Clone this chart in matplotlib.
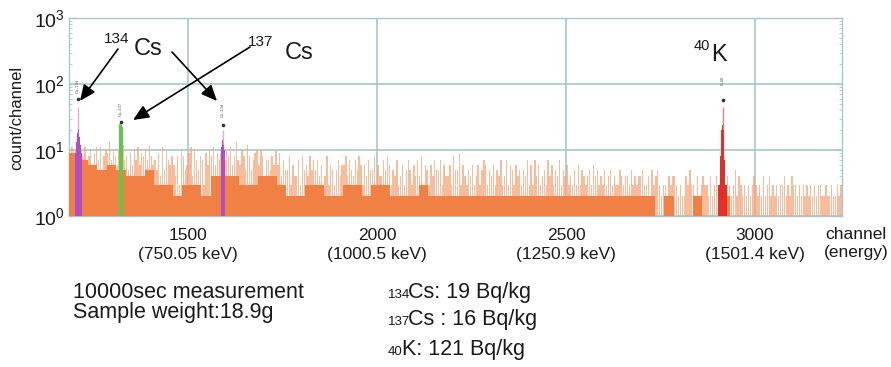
import matplotlib
matplotlib.use('Agg')
import matplotlib.pyplot as plt
import matplotlib.patches as mpatches
import numpy as np
from matplotlib.ticker import LogLocator, NullFormatter

plt.rcParams['font.family'] = ['Liberation Sans', 'DejaVu Sans']
plt.rcParams['mathtext.fontset'] = 'custom'
plt.rcParams['mathtext.rm'] = 'Liberation Sans'
plt.rcParams['mathtext.it'] = 'Liberation Sans:italic'
plt.rcParams['mathtext.default'] = 'regular'

W, H = 891, 367

# ---------------- data ----------------
channel_start = 1185
channel_end = 3230
block_width = 25          # smoothed background block (channels)
bin_width = 5             # raw-count bin (channels)

x_ticks = [1500, 2000, 2500, 3000]
x_tick_labels = ['1500\n(750.05 keV)', '2000\n(1000.5 keV)',
                 '2500\n(1250.9 keV)', '3000\n(1501.4 keV)']
y_ticks = [1, 10, 100, 1000]

# smoothed background level per 25-channel block
background_levels = [
    9, 7, 6, 5, 6, 5, 4, 4, 5, 3,
    3, 2, 3, 3, 2, 4, 4, 4, 3, 3,
    4, 4, 3, 2, 2, 3, 3, 2, 2, 3,
    3, 2, 3, 3, 2, 2, 2, 3, 2, 2,
    2, 2, 2, 2, 2, 2, 2, 2, 2, 2,
    2, 2, 2, 2, 2, 2, 2, 2, 2, 2,
    2, 2, 1, 2, 1, 1, 2, 1, 1, 2,
    1, 1, 1, 1, 1, 1, 1, 1, 1, 1,
    1, 1,
]

# raw counts per 5-channel bin
channel_counts = [
    9, 11, 8, 10, 12, 9, 10, 8, 11, 7, 8, 10, 6, 9, 11, 7, 11, 5, 8, 10, 9, 13, 7, 10, 8,
    6, 10, 8, 12, 7, 8, 5, 9, 6, 10, 7, 11, 6, 9, 8, 10, 7, 12, 8, 6, 7, 5, 9, 4, 11,
    5, 10, 7, 6, 8, 6, 4, 8, 3, 10, 8, 5, 6, 9, 11, 4, 10, 7, 5, 8, 7, 3, 9, 6, 10,
    8, 11, 6, 9, 7, 9, 12, 7, 10, 8, 11, 6, 8, 13, 7, 6, 10, 8, 5, 12, 8, 5, 7, 9, 10,
    6, 10, 8, 4, 7, 7, 5, 8, 6, 10, 6, 9, 4, 7, 5, 5, 8, 3, 6, 4, 4, 7, 3, 8, 5,
    6, 4, 8, 5, 7, 5, 7, 4, 6, 3, 4, 8, 3, 6, 5, 3, 5, 7, 4, 6, 6, 8, 4, 7, 5,
    4, 7, 5, 8, 6, 3, 6, 4, 7, 5, 5, 8, 3, 6, 4, 4, 7, 5, 8, 6, 3, 5, 4, 7, 3,
    4, 6, 3, 5, 7, 5, 3, 6, 4, 7, 4, 8, 3, 6, 5, 3, 6, 4, 7, 5, 5, 7, 3, 6, 4,
    4, 6, 3, 8, 5, 5, 9, 3, 6, 4, 3, 5, 4, 6, 3, 4, 6, 3, 5, 7, 6, 3, 5, 4, 6,
    3, 5, 4, 7, 3, 4, 7, 3, 6, 5, 3, 6, 4, 5, 3, 5, 4, 7, 3, 6, 3, 7, 4, 6, 3,
    4, 5, 3, 7, 4, 6, 3, 5, 4, 7, 3, 5, 4, 6, 3, 4, 3, 5, 3, 6, 3, 5, 4, 3, 4,
    5, 3, 6, 4, 5, 3, 4, 3, 5, 3, 4, 5, 3, 4, 3, 3, 5, 4, 3, 4, 4, 3, 5, 3, 4,
    3, 4, 4, 5, 3, 3, 4, 2, 5, 3, 4, 5, 3, 2, 3, 3, 2, 4, 3, 4, 4, 3, 2, 3, 2,
    2, 4, 3, 5, 3, 3, 2, 4, 2, 3, 4, 3, 3, 2, 4, 2, 3, 4, 3, 2, 3, 4, 2, 4, 3,
    2, 3, 5, 2, 4, 3, 2, 3, 2, 3, 2, 3, 4, 3, 2, 3, 2, 4, 2, 3, 4, 2, 3, 2, 3,
    2, 3, 3, 4, 2, 3, 2, 4, 3, 3, 2, 3, 2, 3, 2, 3, 2, 3, 2, 3, 2, 3, 3, 2, 2,
    3, 2, 2, 3, 2, 2, 3, 2, 3, 2,
]

# identified peaks (per-channel counts)
cs134a_channels = list(range(1202, 1219))
cs134a_counts = [9, 10, 11, 13, 16, 18, 20, 22, 21, 20, 18, 16, 14, 12, 11, 10, 9]
cs134a_top = (1209, 45)

cs137_channels = list(range(1318, 1328))
cs137_counts = [23, 25, 26, 26, 26, 25, 24, 23, 22, 22]

cs134b_channels = list(range(1587, 1597))
cs134b_counts = [9, 11, 12, 13, 14, 14, 13, 12, 11, 10]
cs134b_top = (1592, 20)

k40_channels = list(range(2902, 2927))
k40_counts = [3, 3, 3, 3, 3, 3, 4, 8, 15, 20, 22, 24, 24, 24, 22, 20, 14, 7, 4, 3, 3, 3, 3, 3, 3]
k40_top = (2914, 45)

peak_names = ['Cs-134', 'Cs-137', 'Cs-134', 'K-40']
peak_channels = [1209, 1322, 1592, 2914]
peak_marker_counts = [59, 27, 24, 57]
peak_label_counts = [95, 42, 40, 112]

# ---------------- colours ----------------
C_DARK = '#F18044'
C_LIGHT = '#F6A57B'
C_PURPLE = '#B24CC0'
C_PINK = '#E9A0E6'
C_GREEN = '#62C64A'
C_RED = '#E0302A'
C_GRID = '#A9C7C9'
C_TEXT = '#1a1a1a'

def fx(px):
    return px / W

def fy(py):
    return 1 - py / H

fig = plt.figure(figsize=(W / 100, H / 100), dpi=100)
ax = fig.add_axes([fx(69), fy(216), (842 - 69) / W, (216 - 18) / H])
ax.set_yscale('log')
ax.set_xlim(channel_start, channel_end)
ax.set_ylim(1, 1000)

# raw counts (light)
centers = channel_start + bin_width * (np.arange(len(channel_counts)) + 0.5)
ax.bar(centers, channel_counts, width=bin_width * 0.72, color=C_LIGHT,
       alpha=0.75, linewidth=0, zorder=2)

# smoothed background (dark)
edges = channel_start + block_width * np.arange(len(background_levels) + 1)
ax.stairs(background_levels, edges, fill=True, baseline=1, color=C_DARK,
          linewidth=0, zorder=3)

# peaks
ax.bar(cs134a_channels, cs134a_counts, width=1.0, color=C_PURPLE, linewidth=0, zorder=5)
ax.vlines(cs134a_top[0], 1, cs134a_top[1], color=C_PINK, lw=0.9, zorder=4)
ax.bar(cs137_channels, cs137_counts, width=1.0, color=C_GREEN, linewidth=0, zorder=5)
ax.bar(cs134b_channels, cs134b_counts, width=1.0, color=C_PURPLE, linewidth=0, zorder=5)
ax.vlines(cs134b_top[0], 1, cs134b_top[1], color=C_PINK, lw=0.9, zorder=4)
ax.bar(k40_channels, k40_counts, width=1.0, color=C_RED, linewidth=0, zorder=5)
ax.vlines(k40_top[0], 1, k40_top[1], color='#EE7A72', lw=0.9, zorder=4)

for name, ch, mc, lc in zip(peak_names, peak_channels, peak_marker_counts, peak_label_counts):
    ax.plot([ch], [mc], marker='o', ms=1.6, color='#333333', zorder=6, linestyle='none')
    ax.text(ch, lc, name, rotation=90, fontsize=3.2, color='#555555',
            ha='center', va='center', zorder=6)

# grid / axes styling
ax.set_axisbelow(True)
ax.grid(True, which='major', color=C_GRID, lw=1.2)
for s in ax.spines.values():
    s.set_color(C_GRID)
    s.set_linewidth(1.0)

ax.set_yticks(y_ticks)
ax.yaxis.set_minor_locator(LogLocator(base=10, subs=np.arange(2, 10)))
ax.yaxis.set_minor_formatter(NullFormatter())
ax.tick_params(axis='y', which='both', direction='in', right=True, color=C_GRID,
               labelsize=14, pad=3, labelcolor=C_TEXT)
ax.tick_params(axis='y', which='major', length=4)
ax.tick_params(axis='y', which='minor', length=2.5)

ax.set_xticks(x_ticks, x_tick_labels)
ax.tick_params(axis='x', length=0, pad=9, labelcolor=C_TEXT, labelsize=12.5)
for lbl in ax.get_xticklabels():
    lbl.set_linespacing(1.25)

fig.text(fx(856), fy(227), 'channel\n(energy)', ha='center', va='top',
         fontsize=12.5, linespacing=1.25, color=C_TEXT)

fig.text(fx(17), fy(118), 'count/channel', rotation=90, ha='center', va='center',
         fontsize=12, color=C_TEXT)

# nuclide annotations
fig.text(fx(104), fy(43), '134', fontsize=11, color=C_TEXT, va='baseline')
fig.text(fx(134), fy(55), 'Cs', fontsize=17, color=C_TEXT, va='baseline')
fig.text(fx(248), fy(46), '137', fontsize=11, color=C_TEXT, va='baseline')
fig.text(fx(285), fy(59), 'Cs', fontsize=17, color=C_TEXT, va='baseline')
fig.text(fx(694), fy(50), '40', fontsize=10.5, color=C_TEXT, va='baseline')
fig.text(fx(711), fy(61), 'K', fontsize=17, color=C_TEXT, va='baseline')

arrow_kw = dict(arrowstyle='-|>,head_length=0.8,head_width=0.35', color='black',
                lw=1.2, mutation_scale=12, shrinkA=0, shrinkB=0)
for tail, head in [((118, 49), (80, 101)), ((172, 52), (217, 101)), ((250, 47), (133, 120))]:
    fig.add_artist(mpatches.FancyArrowPatch(
        (fx(tail[0]), fy(tail[1])), (fx(head[0]), fy(head[1])),
        transform=fig.transFigure, **arrow_kw))

# bottom notes
fig.text(fx(73), fy(298), '10000sec measurement', fontsize=15.5, color=C_TEXT, va='baseline')
fig.text(fx(73), fy(318), 'Sample weight:18.9g', fontsize=15.5, color=C_TEXT, va='baseline')
fig.text(fx(388), fy(298), '134', fontsize=9.5, color=C_TEXT, va='baseline')
fig.text(fx(408), fy(298), 'Cs: 19 Bq/kg', fontsize=15.5, color=C_TEXT, va='baseline')
fig.text(fx(388), fy(325), '137', fontsize=9.5, color=C_TEXT, va='baseline')
fig.text(fx(408), fy(325), 'Cs : 16 Bq/kg', fontsize=15.5, color=C_TEXT, va='baseline')
fig.text(fx(388), fy(355), '40', fontsize=9.5, color=C_TEXT, va='baseline')
fig.text(fx(402), fy(355), 'K: 121 Bq/kg', fontsize=15.5, color=C_TEXT, va='baseline')

fig.savefig('out.png', dpi=100)
